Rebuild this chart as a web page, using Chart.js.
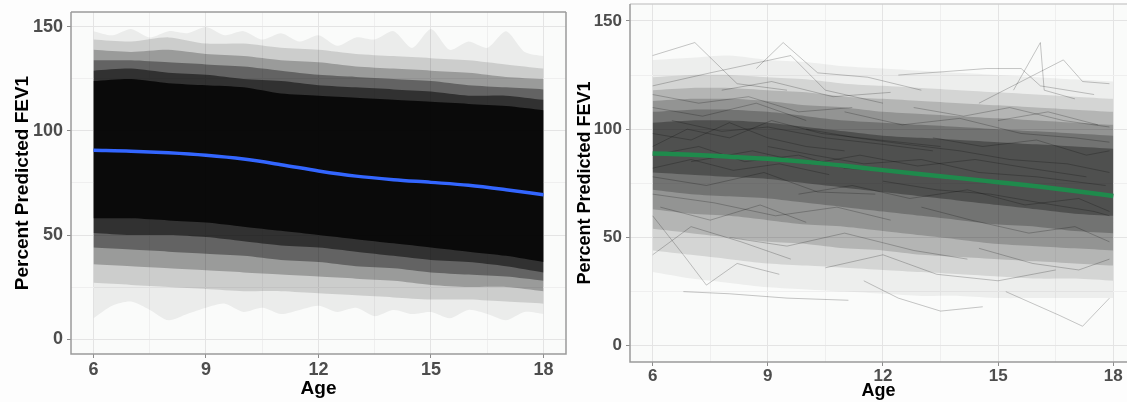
<!DOCTYPE html>
<html>
<head>
<meta charset="utf-8">
<script src="https://cdn.jsdelivr.net/npm/chart.js@4.4.1/dist/chart.umd.min.js"></script>
<style>
  body { margin: 0; background: #fdfdfd; width: 1127px; height: 402px; overflow: hidden; position: relative; }
  canvas { position: absolute; top: 0; }
</style>
</head>
<body>
<canvas id="left" width="572" height="402" style="left:0"></canvas>
<canvas id="right" width="555" height="402" style="left:572px"></canvas>
<script>
// axis ticks
const xMajorTicks = [6, 9, 12, 15, 18];
const xMinorTicks = [7.5, 10.5, 13.5, 16.5];
const yMajorTicks = [0, 50, 100, 150];
const yMinorTicks = [25, 75, 125];

// smoothed mean curves
const smoothAges = [6, 7, 8, 9, 10, 11, 12, 13, 14, 15, 16, 17, 18];
const blueSmooth = [90.7, 90.3, 89.5, 88.3, 86.5, 83.8, 80.8, 78.3, 76.6, 75.3, 73.9, 71.8, 69.4];
const greenSmooth = [88.8, 88.2, 87.3, 86.3, 84.9, 83.1, 81.1, 79.2, 77.4, 75.5, 73.6, 71.5, 69.1];

// density of the trajectories: nested envelopes, one value per year of age
const bandAges = [6, 7, 8, 9, 10, 11, 12, 13, 14, 15, 16, 17, 18];

const leftL6Top = [124, 125, 123, 122, 121, 118, 117, 116, 115, 114, 113, 112, 110];
const leftL6Bottom = [58, 58, 57, 56, 54, 52, 50, 48, 46, 44, 42, 40, 37];
const leftL5Top = [129, 130, 128, 127, 125, 124, 122, 121, 120, 119, 117, 117, 115];
const leftL5Bottom = [51, 50, 50, 49, 47, 45, 44, 42, 40, 38, 37, 35, 32];
const leftL4Top = [134, 134, 133, 132, 131, 129, 127, 126, 125, 124, 122, 121, 120];
const leftL4Bottom = [44, 43, 42, 41, 40, 38, 37, 35, 34, 32, 31, 30, 28];
const leftL3Top = [139, 138, 139, 137, 136, 134, 133, 131, 130, 129, 128, 126, 125];
const leftL3Bottom = [36, 35, 34, 33, 32, 31, 30, 29, 28, 26, 25, 25, 23];
const leftL2Top = [144, 143, 145, 142, 142, 140, 139, 137, 136, 135, 134, 132, 130];
const leftL2Bottom = [27, 26, 25, 24, 23, 23, 22, 21, 20, 19, 19, 18, 17];

const fringeAges = [6, 6.5, 7, 7.5, 8, 8.5, 9, 9.5, 10, 10.5, 11, 11.5, 12, 12.5, 13, 13.5, 14, 14.5, 15, 15.5, 16, 16.5, 17, 17.5, 18];
const leftFringeTop = [148, 146, 149, 145, 148, 147, 150, 146, 148, 144, 147, 143, 146, 141, 145, 144, 148, 140, 149, 139, 143, 140, 148, 138, 136];
const leftFringeBottom = [10, 16, 18, 14, 9, 12, 15, 17, 13, 15, 12, 14, 16, 13, 15, 11, 14, 12, 13, 10, 14, 12, 9, 13, 12];

const rightR6Top = [103, 104, 104, 103, 101, 99, 97, 96, 95, 94, 93, 92, 91];
const rightR6Bottom = [80, 79, 78, 77, 75, 73, 71, 69, 67, 65, 63, 61, 60];
const rightR5Top = [108, 109, 109, 108, 106, 104, 103, 102, 101, 100, 99, 98, 97];
const rightR5Bottom = [72, 70, 69, 68, 66, 64, 62, 60, 58, 56, 55, 53, 52];
const rightR4Top = [113, 114, 114, 113, 111, 110, 108, 107, 106, 105, 104, 103, 102];
const rightR4Bottom = [63, 61, 60, 58, 56, 55, 53, 51, 49, 47, 46, 45, 44];
const rightR3Top = [118, 119, 119, 118, 117, 115, 114, 113, 112, 111, 110, 109, 108];
const rightR3Bottom = [54, 52, 50, 48, 47, 45, 44, 42, 41, 40, 39, 38, 37];
const rightR2Top = [124, 125, 125, 124, 123, 121, 120, 119, 118, 117, 116, 115, 114];
const rightR2Bottom = [44, 42, 40, 38, 37, 36, 35, 34, 33, 32, 31, 31, 30];
const rightR1Top = [132, 133, 134, 132, 131, 129, 128, 127, 126, 125, 124, 123, 122];
const rightR1Bottom = [34, 31, 29, 27, 26, 25, 24, 23, 23, 22, 22, 22, 22];

// right panel: individual patient trajectories [age, value]
const rightTrajectories = [
  [[6, 134], [7.1, 140], [8.2, 121], [9.5, 118]],
  [[8.7, 128], [9.4, 140], [10.3, 126], [11.6, 124], [13, 118]],
  [[6, 120], [7.5, 126], [9.6, 134], [10.5, 118], [12, 112]],
  [[12.4, 125], [14.7, 128], [15.6, 128], [16.1, 120], [17.5, 116]],
  [[15.4, 118], [16.1, 140], [16.2, 118], [17, 114]],
  [[14.5, 112], [16.7, 132], [17.2, 122], [17.9, 121]],
  [[6.8, 25], [8, 24], [9.5, 22], [11.1, 21]],
  [[11.5, 30], [12.4, 22], [13.5, 16], [14.6, 18]],
  [[15.2, 25], [16.6, 14], [17.2, 9], [17.9, 22]],
  [[6, 60], [6.8, 42], [7.4, 28], [8.2, 38], [9.3, 33]],
  [[6, 98], [7, 95], [8, 103], [9, 96], [10, 92], [11, 90]],
  [[6, 88], [7.2, 92], [8.4, 85], [9.8, 88], [11, 82], [12.5, 80]],
  [[6.5, 104], [7.8, 99], [9, 101], [10.5, 96], [12, 93], [13.3, 90]],
  [[9, 92], [10.2, 88], [11.5, 84], [13, 86], [14.5, 80], [16, 78], [17.8, 74]],
  [[10, 100], [11.3, 96], [12.6, 93], [14, 90], [15.3, 86], [16.8, 84], [17.9, 80]],
  [[6, 78], [7.4, 74], [8.9, 80], [10.3, 71], [11.8, 70]],
  [[12, 76], [13.4, 72], [14.8, 70], [16.1, 66], [17.5, 62], [17.9, 60]],
  [[6, 110], [7.3, 106], [8.7, 112], [10, 104]],
  [[11, 108], [12.5, 102], [14, 105], [15.6, 98], [17, 96], [17.9, 94]],
  [[6, 70], [7.6, 66], [9.2, 60], [10.8, 64], [12.2, 58]],
  [[13, 64], [14.3, 58], [15.8, 52], [17, 55], [17.9, 48]],
  [[8, 50], [9.5, 46], [11, 52], [12.8, 44], [14.2, 40]],
  [[14.5, 45], [15.9, 38], [17.1, 35], [17.9, 40]],
  [[6, 92], [6.9, 100], [8, 96], [9.1, 104], [10.4, 98], [11.9, 95], [13.5, 92]],
  [[7, 85], [8.6, 90], [10.1, 84], [11.4, 88], [12.9, 83], [14.4, 86], [15.8, 82], [17.3, 78]],
  [[6, 116], [7.2, 112], [8.5, 115], [9.8, 108], [11.2, 110]],
  [[12.8, 110], [14.1, 106], [15.3, 110], [16.7, 104], [17.9, 101]],
  [[6, 42], [7, 55], [8.3, 48], [9.6, 40]],
  [[10.5, 36], [12, 42], [13.4, 33], [15, 30], [16.5, 35]],
  [[9.8, 70], [11.2, 74], [12.7, 68], [14.2, 72], [15.7, 65], [17.1, 68], [17.9, 62]],
  [[6, 82], [7, 86], [8.1, 81], [9.3, 84], [10.6, 79]],
  [[13.3, 96], [14.6, 92], [16, 95], [17.3, 88], [17.9, 90]],
  [[7.8, 118], [9.1, 122], [10.7, 115], [12.2, 117]],
  [[15, 104], [16.3, 108], [17.6, 102]],
  [[6.2, 64], [7.5, 58], [8.8, 65], [10, 57]]
];

const FONT = '"Liberation Sans", Arial, sans-serif';

function points(ages, values) {
  return ages.map((a, i) => ({ x: a, y: values[i] }));
}

function band(ages, top, bottom, color) {
  return [
    { data: points(ages, top), borderWidth: 0, pointRadius: 0, fill: false, tension: 0.25 },
    { data: points(ages, bottom), borderWidth: 0, pointRadius: 0, fill: '-1', backgroundColor: color, tension: 0.25 }
  ];
}

function trajectory(pairs, color) {
  return {
    data: pairs.map(p => ({ x: p[0], y: p[1] })),
    borderColor: color, borderWidth: 1, pointRadius: 0, fill: false, tension: 0
  };
}

const panelPlugin = {
  id: 'panel',
  beforeDraw(chart, args, opts) {
    const { ctx, chartArea: a } = chart;
    ctx.save();
    ctx.fillStyle = opts.bg;
    ctx.fillRect(a.left, a.top, a.right - a.left, a.bottom - a.top);
    ctx.restore();
  },
  afterDraw(chart, args, opts) {
    const { ctx, chartArea: a } = chart;
    ctx.save();
    ctx.lineWidth = 1.5;
    ctx.strokeStyle = opts.topColor;
    ctx.beginPath();
    ctx.moveTo(a.left, a.top); ctx.lineTo(a.right, a.top);
    ctx.stroke();
    ctx.strokeStyle = opts.axisColor;
    ctx.beginPath();
    ctx.moveTo(a.left, a.top); ctx.lineTo(a.left, a.bottom); ctx.lineTo(a.right, a.bottom);
    if (opts.closeRight) ctx.lineTo(a.right, a.top);
    ctx.stroke();
    ctx.restore();
  }
};

function makeOptions(cfg) {
  const xTicks = xMajorTicks.concat(xMinorTicks).sort((a, b) => a - b);
  const yTicks = yMajorTicks.concat(yMinorTicks).sort((a, b) => a - b);
  const noPad = s => { s.paddingTop = 0; s.paddingBottom = 0; s.paddingLeft = 0; s.paddingRight = 0; };
  return {
    responsive: false,
    animation: false,
    events: [],
    layout: { padding: cfg.padding },
    plugins: {
      legend: { display: false },
      tooltip: { enabled: false },
      panel: cfg.panel
    },
    scales: {
      x: {
        type: 'linear',
        min: cfg.xMin,
        max: cfg.xMax,
        afterBuildTicks: s => { s.ticks = xTicks.map(v => ({ value: v })); },
        afterFit: s => { s.height = cfg.xHeight; noPad(s); },
        border: { display: false },
        grid: {
          color: c => xMajorTicks.includes(c.tick.value) ? '#e4e4e4' : '#efefef',
          tickColor: c => xMajorTicks.includes(c.tick.value) ? '#8c8c8c' : 'rgba(0,0,0,0)',
          tickLength: 4
        },
        ticks: {
          autoSkip: false,
          maxRotation: 0,
          padding: cfg.xTickPad,
          color: '#4d4d4d',
          font: { family: FONT, size: cfg.tickSize, weight: 'bold' },
          callback: v => xMajorTicks.includes(v) ? String(v) : ''
        },
        title: {
          display: true,
          text: 'Age',
          color: '#000',
          padding: { top: 0, bottom: cfg.xTitlePad },
          font: { family: FONT, size: cfg.titleSize, weight: 'bold' }
        }
      },
      y: {
        type: 'linear',
        min: cfg.yMin,
        max: cfg.yMax,
        afterBuildTicks: s => { s.ticks = yTicks.map(v => ({ value: v })); },
        afterFit: s => { s.width = cfg.yWidth; noPad(s); },
        border: { display: false },
        grid: {
          color: c => yMajorTicks.includes(c.tick.value) ? '#e4e4e4' : '#efefef',
          tickColor: c => yMajorTicks.includes(c.tick.value) ? '#8c8c8c' : 'rgba(0,0,0,0)',
          tickLength: 4
        },
        ticks: {
          autoSkip: false,
          padding: 4,
          color: '#4d4d4d',
          font: { family: FONT, size: cfg.tickSize, weight: 'bold' },
          callback: v => yMajorTicks.includes(v) ? String(v) : ''
        },
        title: {
          display: true,
          text: 'Percent Predicted FEV1',
          color: '#000',
          padding: { top: cfg.yTitlePad, bottom: 0 },
          font: { family: FONT, size: cfg.titleSize, weight: 'bold' }
        }
      }
    }
  };
}

// left panel
const leftDatasets = [
  { data: points(smoothAges, blueSmooth), borderColor: '#3366ff', borderWidth: 3.5, pointRadius: 0, fill: false, cubicInterpolationMode: 'monotone' },
  ...band(bandAges, leftL6Top, leftL6Bottom, 'rgba(3,3,3,0.85)'),
  ...band(bandAges, leftL5Top, leftL5Bottom, 'rgba(0,0,0,0.5)'),
  ...band(bandAges, leftL4Top, leftL4Bottom, 'rgba(0,0,0,0.355)'),
  ...band(bandAges, leftL3Top, leftL3Bottom, 'rgba(0,0,0,0.244)'),
  ...band(bandAges, leftL2Top, leftL2Bottom, 'rgba(0,0,0,0.128)'),
  ...band(fringeAges, leftFringeTop, leftFringeBottom, 'rgba(0,0,0,0.06)')
];

new Chart(document.getElementById('left'), {
  type: 'line',
  data: { datasets: leftDatasets },
  options: makeOptions({
    padding: { top: 12, right: 6, left: 0, bottom: 0 },
    xMin: 5.4, xMax: 18.6, yMin: -7.2, yMax: 157.2,
    xHeight: 48, yWidth: 71,
    tickSize: 18, titleSize: 19,
    xTickPad: 1, xTitlePad: 2, yTitlePad: 11,
    panel: { bg: '#fafbfa', topColor: '#9a9a9a', axisColor: '#9a9a9a', closeRight: true }
  }),
  plugins: [panelPlugin]
});

// right panel
const rightDatasets = [
  { data: points(smoothAges, greenSmooth), borderColor: '#1f8a4c', borderWidth: 4.5, pointRadius: 0, fill: false, cubicInterpolationMode: 'monotone' },
  ...rightTrajectories.map(t => trajectory(t, 'rgba(0,0,0,0.22)')),
  ...band(bandAges, rightR6Top, rightR6Bottom, 'rgba(0,0,0,0.3)'),
  ...band(bandAges, rightR5Top, rightR5Bottom, 'rgba(0,0,0,0.22)'),
  ...band(bandAges, rightR4Top, rightR4Bottom, 'rgba(0,0,0,0.18)'),
  ...band(bandAges, rightR3Top, rightR3Bottom, 'rgba(0,0,0,0.15)'),
  ...band(bandAges, rightR2Top, rightR2Bottom, 'rgba(0,0,0,0.1)'),
  ...band(bandAges, rightR1Top, rightR1Bottom, 'rgba(0,0,0,0.05)')
];

new Chart(document.getElementById('right'), {
  type: 'line',
  data: { datasets: rightDatasets },
  options: makeOptions({
    padding: { top: 4, right: 0, left: 0, bottom: 0 },
    xMin: 5.41, xMax: 18.357, yMin: -7.5, yMax: 157.8,
    xHeight: 40, yWidth: 58,
    tickSize: 17, titleSize: 18,
    xTickPad: 0, xTitlePad: 0, yTitlePad: 2,
    panel: { bg: '#fafbfa', topColor: '#cfcfcf', axisColor: '#9a9a9a', closeRight: false }
  }),
  plugins: [panelPlugin]
});
</script>
</body>
</html>
